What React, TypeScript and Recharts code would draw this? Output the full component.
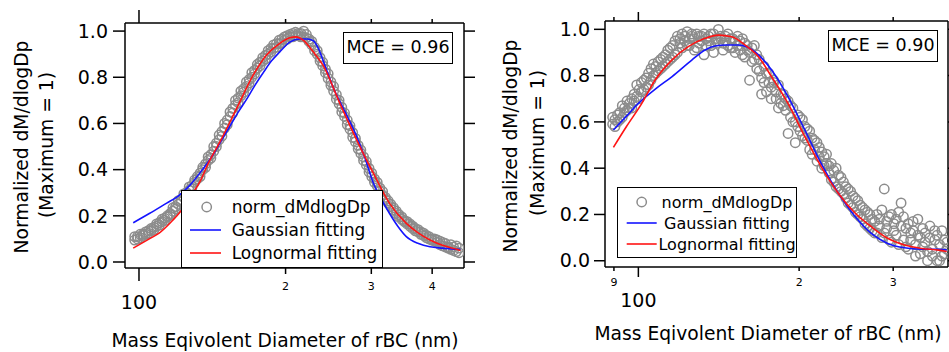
import React from "react";
import { ComposedChart, Scatter, Line, XAxis, YAxis } from "recharts";

const FONT = "'DejaVu Sans', Verdana, sans-serif";
const GRAY = "#8c8c8c";
const BLUE = "#1414ff";
const RED = "#ff1414";

// ---- left panel (MCE = 0.96) ----
const leftDp = [
  98.0, 99.3, 100.6, 101.9, 103.2, 104.5, 105.9, 107.3, 108.7, 110.1,
  111.5, 112.9, 114.4, 115.9, 117.4, 118.9, 120.4, 122.0, 123.6, 125.2,
  126.8, 128.4, 130.1, 131.8, 133.5, 135.2, 137.0, 138.7, 140.5, 142.4,
  144.2, 146.1, 148.0, 149.9, 151.8, 153.8, 155.8, 157.8, 159.9, 161.9,
  164.0, 166.2, 168.3, 170.5, 172.7, 175.0, 177.2, 179.5, 181.9, 184.2,
  186.6, 189.0, 191.5, 194.0, 196.5, 199.0, 201.6, 204.2, 206.9, 209.6,
  212.3, 215.0, 217.8, 220.7, 223.5, 226.4, 229.4, 232.3, 235.4, 238.4,
  241.5, 244.6, 247.8, 251.0, 254.3, 257.6, 260.9, 264.3, 267.7, 271.2,
  274.7, 278.3, 281.9, 285.5, 289.2, 293.0, 296.8, 300.6, 304.5, 308.5,
  312.5, 316.5, 320.6, 324.8, 329.0, 333.3, 337.6, 342.0, 346.4, 350.9,
  355.5, 360.1, 364.8, 369.5, 374.3, 379.2, 384.1, 389.1, 394.1, 399.2,
  404.4, 409.7, 415.0, 420.4, 425.8, 431.4, 437.0, 442.6, 448.4, 454.2,
];
const leftNorm = [
  0.095, 0.11, 0.105, 0.12, 0.12, 0.135, 0.135, 0.15, 0.155, 0.17,
  0.175, 0.19, 0.195, 0.21, 0.22, 0.24, 0.25, 0.27, 0.28, 0.3,
  0.31, 0.33, 0.345, 0.36, 0.385, 0.4, 0.425, 0.44, 0.465, 0.48,
  0.515, 0.53, 0.565, 0.58, 0.615, 0.63, 0.665, 0.68, 0.71, 0.72,
  0.75, 0.76, 0.79, 0.8, 0.83, 0.84, 0.865, 0.87, 0.895, 0.9,
  0.925, 0.925, 0.945, 0.945, 0.965, 0.96, 0.98, 0.975, 0.99, 0.98,
  0.99, 0.975, 1.0, 0.97, 0.965, 0.94, 0.93, 0.9, 0.885, 0.85,
  0.835, 0.795, 0.78, 0.74, 0.725, 0.685, 0.67, 0.63, 0.615, 0.575,
  0.56, 0.52, 0.505, 0.47, 0.455, 0.42, 0.405, 0.37, 0.36, 0.33,
  0.32, 0.29, 0.28, 0.255, 0.25, 0.225, 0.22, 0.195, 0.195, 0.175,
  0.175, 0.155, 0.155, 0.135, 0.14, 0.12, 0.125, 0.105, 0.11, 0.095,
  0.1, 0.085, 0.09, 0.07, 0.08, 0.06, 0.075, 0.05, 0.07, 0.04,
];
const leftNorm2 = [
  0.11, 0.1, 0.12, 0.115, 0.13, 0.125, 0.145, 0.14, 0.165, 0.16,
  0.185, 0.18, 0.2, 0.205, 0.235, 0.23, 0.265, 0.26, 0.295, 0.29,
  0.325, 0.32, 0.355, 0.37, 0.37, 0.41, 0.41, 0.455, 0.45, 0.5,
  0.5, 0.55, 0.545, 0.6, 0.595, 0.65, 0.645, 0.7, 0.69, 0.74,
  0.735, 0.78, 0.775, 0.82, 0.815, 0.855, 0.85, 0.885, 0.88, 0.915,
  0.91, 0.94, 0.93, 0.96, 0.95, 0.975, 0.965, 0.985, 0.975, 0.995,
  0.98, 0.99, 0.975, 0.985, 0.955, 0.955, 0.915, 0.915, 0.87, 0.865,
  0.82, 0.815, 0.765, 0.76, 0.705, 0.7, 0.65, 0.645, 0.595, 0.59,
  0.54, 0.535, 0.49, 0.485, 0.44, 0.435, 0.39, 0.385, 0.345, 0.345,
  0.305, 0.305, 0.27, 0.265, 0.24, 0.235, 0.21, 0.205, 0.185, 0.18,
  0.165, 0.165, 0.145, 0.145, 0.13, 0.13, 0.115, 0.115, 0.1, 0.1,
  0.09, 0.095, 0.075, 0.085, 0.065, 0.065, 0.055, 0.065, 0.045, 0.06,
];
const leftGaussDp = [
  97.3, 105, 114, 120, 127.3, 135, 142, 148, 153.9, 160, 166.4, 173, 180, 187, 194.6,
  204, 213.8, 222, 228, 233.5, 240, 250, 265, 280, 290, 303, 315, 327, 340, 354,
  375, 396, 420, 449, 457,
];
const leftGaussVal = [
  0.17, 0.21, 0.255, 0.283, 0.333, 0.4, 0.465, 0.53, 0.59, 0.65, 0.705, 0.765, 0.82, 0.87, 0.91,
  0.952, 0.966, 0.966, 0.958, 0.925, 0.86, 0.76, 0.65, 0.543, 0.46, 0.341, 0.27, 0.21, 0.155, 0.11,
  0.08, 0.066, 0.06, 0.055, 0.055,
];
const leftLogDp = [
  97.3, 105, 110, 116, 122.4, 128.3, 133.4, 139, 146.6, 158.7, 171.7, 182.8, 194.6, 204, 210,
  217.6, 228, 239, 258.5, 280, 303, 327, 354, 375, 396, 420, 449, 457,
];
const leftLogVal = [
  0.06, 0.1, 0.125, 0.17, 0.225, 0.29, 0.348, 0.43, 0.52, 0.665, 0.81, 0.896, 0.947, 0.971, 0.975,
  0.96, 0.91, 0.85, 0.687, 0.528, 0.384, 0.254, 0.167, 0.125, 0.095, 0.072, 0.055, 0.05,
];
const leftXTicks = [100, 200, 300, 400];
const leftXTickLabels = ["100", "2", "3", "4"];

// ---- right panel (MCE = 0.90) ----
const rightDp = [
  89.5, 90.4, 91.4, 92.3, 93.3, 94.2, 95.2, 96.2, 97.2, 98.2,
  99.3, 100.3, 101.3, 102.4, 103.5, 104.5, 105.6, 106.7, 107.8, 108.9,
  110.1, 111.2, 112.4, 113.5, 114.7, 115.9, 117.1, 118.3, 119.6, 120.8,
  122.1, 123.4, 124.6, 125.9, 127.3, 128.6, 129.9, 131.3, 132.7, 134.0,
  135.4, 136.8, 138.3, 139.7, 141.2, 142.6, 144.1, 145.6, 147.1, 148.7,
  150.2, 151.8, 153.4, 155.0, 156.6, 158.2, 159.9, 161.5, 163.2, 164.9,
  166.6, 168.4, 170.1, 171.9, 173.7, 175.5, 177.3, 179.2, 181.1, 182.9,
  184.8, 186.8, 188.7, 190.7, 192.7, 194.7, 196.7, 198.8, 200.8, 202.9,
  205.0, 207.2, 209.3, 211.5, 213.7, 216.0, 218.2, 220.5, 222.8, 225.1,
  227.5, 229.8, 232.2, 234.6, 237.1, 239.6, 242.1, 244.6, 247.1, 249.7,
  252.3, 254.9, 257.6, 260.3, 263.0, 265.7, 268.5, 271.3, 274.1, 277.0,
  279.8, 282.7, 285.7, 288.7, 291.7, 294.7, 297.8, 300.9, 304.0, 307.2,
  310.4, 313.6, 316.9, 320.2, 323.5, 326.9, 330.3, 333.7, 337.2, 340.7,
  344.3, 347.9, 351.5, 355.2, 358.9, 362.6, 366.4, 370.2, 374.1, 378.0,
];
const rightNorm = [
  0.59, 0.61, 0.6, 0.64, 0.62, 0.66, 0.65, 0.68, 0.66, 0.69,
  0.76, 0.7, 0.77, 0.74, 0.79, 0.76, 0.83, 0.8, 0.84, 0.82,
  0.87, 0.84, 0.89, 0.86, 0.92, 0.88, 0.95, 0.9, 0.96, 0.92,
  0.97, 0.93, 0.96, 0.97, 0.91, 0.98, 0.94, 0.97, 0.89, 0.96,
  0.97, 0.93, 0.98, 0.95, 1.0, 0.96, 0.94, 0.97, 0.93, 0.96,
  0.92, 0.95, 0.97, 0.91, 0.96, 0.88, 0.93, 0.9, 0.86, 0.93,
  0.83, 0.87, 0.79, 0.84, 0.73, 0.81, 0.75, 0.78, 0.7, 0.76,
  0.68, 0.72, 0.65, 0.69, 0.62, 0.66, 0.6, 0.63, 0.56, 0.61,
  0.53, 0.57, 0.48, 0.53, 0.48, 0.51, 0.45, 0.47, 0.41, 0.46,
  0.38, 0.42, 0.34, 0.4, 0.31, 0.36, 0.29, 0.32, 0.25, 0.3,
  0.23, 0.27, 0.2, 0.24, 0.18, 0.22, 0.15, 0.2, 0.13, 0.17,
  0.12, 0.18, 0.1, 0.31, 0.14, 0.19, 0.08, 0.16, 0.11, 0.21,
  0.25, 0.09, 0.14, 0.05, 0.12, 0.17, 0.07, 0.11, 0.03, 0.14,
  0.08, 0.0, 0.1, 0.05, 0.13, 0.0, 0.07, 0.02, 0.09, 0.05,
];
const rightNorm2 = [
  0.62, 0.58, 0.63, 0.61, 0.67, 0.64, 0.69, 0.66, 0.7, 0.72,
  0.71, 0.74, 0.73, 0.78, 0.75, 0.81, 0.78, 0.85, 0.81, 0.86,
  0.83, 0.88, 0.85, 0.91, 0.87, 0.93, 0.89, 0.97, 0.94, 0.98,
  0.95, 0.99, 0.93, 0.98, 0.96, 0.92, 0.97, 0.95, 0.98, 0.93,
  0.95, 0.98, 0.9, 0.96, 0.94, 0.97, 0.91, 0.95, 0.98, 0.92,
  0.96, 0.9, 0.93, 0.95, 0.89, 0.94, 0.91, 0.78, 0.92, 0.87,
  0.89, 0.82, 0.72, 0.77, 0.81, 0.77, 0.7, 0.77, 0.73, 0.66,
  0.72, 0.67, 0.7, 0.55, 0.67, 0.6, 0.51, 0.58, 0.62, 0.54,
  0.58, 0.52, 0.56, 0.46, 0.52, 0.43, 0.49, 0.4, 0.45, 0.42,
  0.41, 0.35, 0.39, 0.32, 0.37, 0.3, 0.34, 0.27, 0.31, 0.24,
  0.28, 0.21, 0.26, 0.19, 0.23, 0.16, 0.21, 0.14, 0.18, 0.12,
  0.2, 0.15, 0.22, 0.12, 0.17, 0.09, 0.2, 0.13, 0.18, 0.07,
  0.15, 0.19, 0.06, 0.16, 0.09, 0.13, 0.02, 0.18, 0.1, 0.06,
  0.12, 0.04, 0.15, 0.02, 0.09, 0.11, 0.0, 0.13, 0.03, 0.08,
];
const rightGaussDp = [
  89.8, 95, 100, 108, 115.5, 125.9, 133.3, 139.2, 146, 153.9, 165.4, 177.6,
  190.6, 205, 220, 237, 254.8, 273, 293, 315, 340, 365, 378,
];
const rightGaussVal = [
  0.565, 0.625, 0.68, 0.745, 0.795, 0.867, 0.911, 0.928, 0.932, 0.932, 0.903, 0.824,
  0.709, 0.565, 0.42, 0.291, 0.19, 0.118, 0.075, 0.056, 0.05, 0.049, 0.047,
];
const rightLogDp = [
  89.8, 95, 101.5, 107.5, 115.5, 124, 133.3, 141.2, 149.6, 158.5, 167.8, 177.6,
  190.6, 205, 220, 237, 254.8, 273, 293, 315, 340, 365, 378,
];
const rightLogVal = [
  0.49, 0.58, 0.68, 0.781, 0.867, 0.925, 0.961, 0.975, 0.968, 0.932, 0.882, 0.795,
  0.68, 0.536, 0.406, 0.291, 0.205, 0.147, 0.097, 0.068, 0.053, 0.046, 0.04,
];
const rightXTicks = [90, 100, 200, 300];
const rightXTickLabels = ["9", "100", "2", "3"];

const yTicks = [0, 0.2, 0.4, 0.6, 0.8, 1.0];
const seriesNames = ["norm_dMdlogDp", "Gaussian fitting", "Lognormal fitting"];

type Pt = { d: number; v: number };
const zip = (xs: number[], ys: number[]): Pt[] => xs.map((d, i) => ({ d, v: ys[i] }));

function OpenCircle(props: any) {
  const { cx, cy } = props;
  if (cx == null || cy == null) return <g />;
  return <circle cx={cx} cy={cy} r={4.7} fill="none" stroke={GRAY} strokeWidth={1.5} />;
}

type TickGeo = { bigLen: number; smallLen: number; bigDy: number; smallDy: number; topBig: number; topSmall: number };

function makeBottomTick(ticks: number[], labels: string[], geo: TickGeo) {
  return (props: any) => {
    const { x, y, payload } = props;
    const i = ticks.indexOf(payload.value);
    const big = labels[i] === "100";
    return (
      <g>
        <line x1={x} x2={x} y1={y} y2={y + (big ? geo.bigLen : geo.smallLen)} stroke="#000" strokeWidth={1.5} />
        <text
          x={x}
          y={y + (big ? geo.bigDy : geo.smallDy)}
          textAnchor="middle"
          dominantBaseline="central"
          fontSize={big ? 19 : 11}
          fontFamily={FONT}
          fill="#000"
        >
          {labels[i]}
        </text>
      </g>
    );
  };
}

function makeTopTick(ticks: number[], labels: string[], geo: TickGeo) {
  return (props: any) => {
    const { x, y, payload } = props;
    const i = ticks.indexOf(payload.value);
    const big = labels[i] === "100";
    return <line x1={x} x2={x} y1={y} y2={y - (big ? geo.topBig : geo.topSmall)} stroke="#000" strokeWidth={1.5} />;
  };
}

function RightTick(props: any) {
  const { x, y } = props;
  return <line x1={x} x2={x + 11} y1={y} y2={y} stroke="#000" strokeWidth={1.5} />;
}

type PanelProps = {
  left: number;
  width: number;
  margin: { top: number; right: number; bottom: number; left: number };
  topH: number;
  botH: number;
  rightW: number;
  xDomain: [number, number];
  yDomain: [number, number];
  xTicks: number[];
  xTickLabels: string[];
  geo: TickGeo;
  yTickMargin: number;
  yTickSize: number;
  data: Pt[];
  data2: Pt[];
  gauss: Pt[];
  logn: Pt[];
};

function Panel(p: PanelProps) {
  const axisLine = { stroke: "#000", strokeWidth: 1.5 };
  return (
    <div style={{ position: "absolute", left: p.left, top: 0 }}>
      <ComposedChart width={p.width} height={352} margin={p.margin}>
        <XAxis
          xAxisId={0}
          dataKey="d"
          type="number"
          scale="log"
          domain={p.xDomain}
          allowDataOverflow
          ticks={p.xTicks}
          interval={0}
          height={p.botH}
          axisLine={axisLine}
          tickLine={false}
          tickSize={0}
          tickMargin={0}
          tick={makeBottomTick(p.xTicks, p.xTickLabels, p.geo)}
        />
        <XAxis
          xAxisId="top"
          orientation="top"
          dataKey="d"
          type="number"
          scale="log"
          domain={p.xDomain}
          allowDataOverflow
          ticks={p.xTicks}
          interval={0}
          height={p.topH}
          axisLine={axisLine}
          tickLine={false}
          tickSize={0}
          tickMargin={0}
          tick={makeTopTick(p.xTicks, p.xTickLabels, p.geo)}
        />
        <YAxis
          yAxisId={0}
          dataKey="v"
          type="number"
          domain={p.yDomain}
          allowDataOverflow
          ticks={yTicks}
          interval={0}
          width={60}
          axisLine={axisLine}
          tickLine={{ stroke: "#000", strokeWidth: 1.5 }}
          tickSize={p.yTickSize}
          tickMargin={p.yTickMargin}
          tickFormatter={(v: number) => v.toFixed(1)}
          tick={{ fontSize: 19, fill: "#000", fontFamily: FONT }}
        />
        <YAxis
          yAxisId="right"
          orientation="right"
          dataKey="v"
          type="number"
          domain={p.yDomain}
          allowDataOverflow
          ticks={yTicks}
          interval={0}
          width={p.rightW}
          axisLine={axisLine}
          tickLine={false}
          tickSize={0}
          tickMargin={0}
          tick={RightTick}
        />
        <Scatter data={p.data} dataKey="v" shape={OpenCircle} isAnimationActive={false} />
        <Scatter data={p.data2} dataKey="v" shape={OpenCircle} isAnimationActive={false} />
        <Line
          data={p.gauss}
          dataKey="v"
          type="monotone"
          stroke={BLUE}
          strokeWidth={1.6}
          dot={false}
          activeDot={false}
          zIndex={700}
          isAnimationActive={false}
        />
        <Line
          data={p.logn}
          dataKey="v"
          type="monotone"
          stroke={RED}
          strokeWidth={1.6}
          dot={false}
          activeDot={false}
          zIndex={710}
          isAnimationActive={false}
        />
      </ComposedChart>
    </div>
  );
}

function LegendBox(props: { left: number; top: number; width: number; height: number; rows: number[]; circleX: number; lineX: [number, number]; textX: number; fontSize: number; center?: boolean }) {
  const { left, top, width, height, rows, circleX, lineX, textX, fontSize, center } = props;
  const colors = [GRAY, BLUE, RED];
  return (
    <div
      style={{
        position: "absolute",
        left,
        top,
        width,
        height,
        boxSizing: "border-box",
        border: "1.5px solid #000",
        background: "#fff",
      }}
    >
      <svg width={width} height={height} style={{ position: "absolute", left: -1.5, top: -1.5 }}>
        {seriesNames.map((name, i) =>
          i === 0 ? (
            <circle key={name} cx={circleX} cy={rows[i]} r={4.7} fill="none" stroke={colors[i]} strokeWidth={1.5} />
          ) : (
            <line key={name} x1={lineX[0]} x2={lineX[1]} y1={rows[i]} y2={rows[i]} stroke={colors[i]} strokeWidth={1.6} />
          )
        )}
        {seriesNames.map((name, i) => (
          <text
            key={"t" + name}
            x={center ? (textX + width - 4) / 2 : textX}
            y={rows[i]}
            textAnchor={center ? "middle" : "start"}
            dominantBaseline="central"
            fontSize={fontSize}
            fontFamily={FONT}
            fill="#000"
          >
            {name}
          </text>
        ))}
      </svg>
    </div>
  );
}

function MceBox(props: { left: number; top: number; text: string }) {
  return (
    <div
      style={{
        position: "absolute",
        left: props.left,
        top: props.top,
        width: 110,
        height: 32,
        boxSizing: "border-box",
        border: "1.5px solid #000",
        background: "#fff",
        fontFamily: FONT,
        fontSize: 17.5,
        lineHeight: "29px",
        textAlign: "center",
        color: "#000",
      }}
    >
      {props.text}
    </div>
  );
}

export default function App() {
  return (
    <div style={{ position: "absolute", left: 0, top: 0, width: 949, height: 352, background: "#fff", overflow: "hidden" }}>
      <Panel
        left={0}
        width={475}
        margin={{ top: 10, right: 0, bottom: 34, left: 65 }}
        topH={13}
        botH={50}
        rightW={11}
        xDomain={[93.6, 465]}
        yDomain={[-0.026, 1.035]}
        xTicks={leftXTicks}
        xTickLabels={leftXTickLabels}
        geo={{ bigLen: 13, smallLen: 6, bigDy: 34, smallDy: 18, topBig: 13, topSmall: 4 }}
        yTickSize={12}
        yTickMargin={5}
        data={zip(leftDp, leftNorm)}
        data2={zip(leftDp, leftNorm2)}
        gauss={zip(leftGaussDp, leftGaussVal)}
        logn={zip(leftLogDp, leftLogVal)}
      />
      <Panel
        left={475}
        width={474}
        margin={{ top: 10, right: 0, bottom: 35, left: 70 }}
        topH={11}
        botH={50}
        rightW={1}
        xDomain={[86.6, 380]}
        yDomain={[-0.027, 1.036]}
        xTicks={rightXTicks}
        xTickLabels={rightXTickLabels}
        geo={{ bigLen: 10, smallLen: 4, bigDy: 33, smallDy: 15.5, topBig: 9, topSmall: 4 }}
        yTickSize={11}
        yTickMargin={4}
        data={zip(rightDp, rightNorm)}
        data2={zip(rightDp, rightNorm2)}
        gauss={zip(rightGaussDp, rightGaussVal)}
        logn={zip(rightLogDp, rightLogVal)}
      />
      <svg width={949} height={352} style={{ position: "absolute", left: 0, top: 0, pointerEvents: "none" }}>
        <g fontFamily={FONT} fontSize={18.7} fill="#000" textAnchor="middle">
          <text x={285} y={340} dominantBaseline="central">Mass Eqivolent Diameter of rBC (nm)</text>
          <text x={768} y={333} dominantBaseline="central">Mass Eqivolent Diameter of rBC (nm)</text>
          <text transform="translate(21,147) rotate(-90)" dominantBaseline="central">Normalized dM/dlogDp</text>
          <text transform="translate(46,145) rotate(-90)" dominantBaseline="central">(Maximum = 1)</text>
          <text transform="translate(510,146) rotate(-90)" dominantBaseline="central">Normalized dM/dlogDp</text>
          <text transform="translate(537,143) rotate(-90)" dominantBaseline="central">(Maximum = 1)</text>
        </g>
      </svg>
      <MceBox left={343} top={32} text="MCE = 0.96" />
      <MceBox left={828} top={30} text="MCE = 0.90" />
      <LegendBox left={181} top={190} width={202} height={78} rows={[17, 40, 63]} circleX={25.7} lineX={[9, 40]} textX={50.7} fontSize={17} />
      <LegendBox left={617} top={187} width={180} height={71} rows={[15, 36, 57]} circleX={24.7} lineX={[9.7, 39.7]} textX={44} fontSize={16} center />
    </div>
  );
}
